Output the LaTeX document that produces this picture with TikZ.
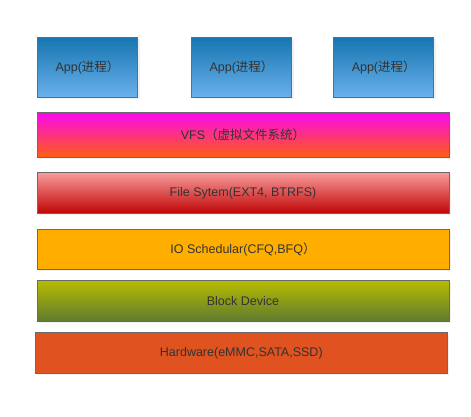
\documentclass[tikz,border=0pt]{standalone}
\usepackage{fontspec}
\setmainfont{Liberation Sans}
\newfontfamily\cjk{Noto Sans CJK SC}
\usepackage{tikz}
\usetikzlibrary{shadows}

\definecolor{edgegray}{HTML}{6A6A6A}
\definecolor{textgray}{HTML}{333333}
\definecolor{apptop}{HTML}{1676B0}
\definecolor{appbot}{HTML}{6AB0EC}
\definecolor{vfstop}{HTML}{FA08F0}
\definecolor{vfsbot}{HTML}{FF5E10}
\definecolor{fstop}{HTML}{F89C9C}
\definecolor{fsbot}{HTML}{C00404}
\definecolor{iofill}{HTML}{FFAE00}
\definecolor{blktop}{HTML}{B6BC00}
\definecolor{blkbot}{HTML}{5F7A30}
\definecolor{hwfill}{HTML}{E0521F}

\begin{document}
\begin{tikzpicture}[x=1pt,y=-1pt,
   box/.style={draw=edgegray,line width=0.8pt,text=textgray,inner sep=0pt,
      font=\fontsize{12.5}{15}\selectfont,
      drop shadow={opacity=0.12,shadow xshift=2pt,shadow yshift=-2pt}},
   appbox/.style={box,minimum width=100pt,minimum height=60pt,
      top color=apptop,bottom color=appbot},
   layer/.style={box,minimum width=412pt}]
         \useasboundingbox (0,0) rectangle (471,416);

         \node[appbox] at (87.5,67.3) (app1) {App({\cjk 进程）}};
         \node[appbox] at (241.5,67.3) (app2) {App({\cjk 进程）}};
         \node[appbox] at (383.7,67.3) (app3) {App({\cjk 进程）}};

         \node[layer,minimum height=45pt,top color=vfstop,bottom color=vfsbot]
            at (243,134.8) (vfs) {VFS{\cjk（虚拟文件系统）}};
         \node[layer,minimum height=41pt,top color=fstop,bottom color=fsbot]
            at (243,192.8) (fs) {File Sytem(EXT4, BTRFS)};
         \node[layer,minimum height=40.3pt,fill=iofill]
            at (243,249.2) (io) {IO Schedular(CFQ,BFQ{\cjk ）}};
         \node[layer,minimum height=40.6pt,top color=blktop,bottom color=blkbot]
            at (243,301) (blk) {Block Device};
         \node[layer,minimum height=40.6pt,fill=hwfill]
            at (241.3,353) (hw) {Hardware(eMMC,SATA,SSD)};
      \end{tikzpicture}
\end{document}
